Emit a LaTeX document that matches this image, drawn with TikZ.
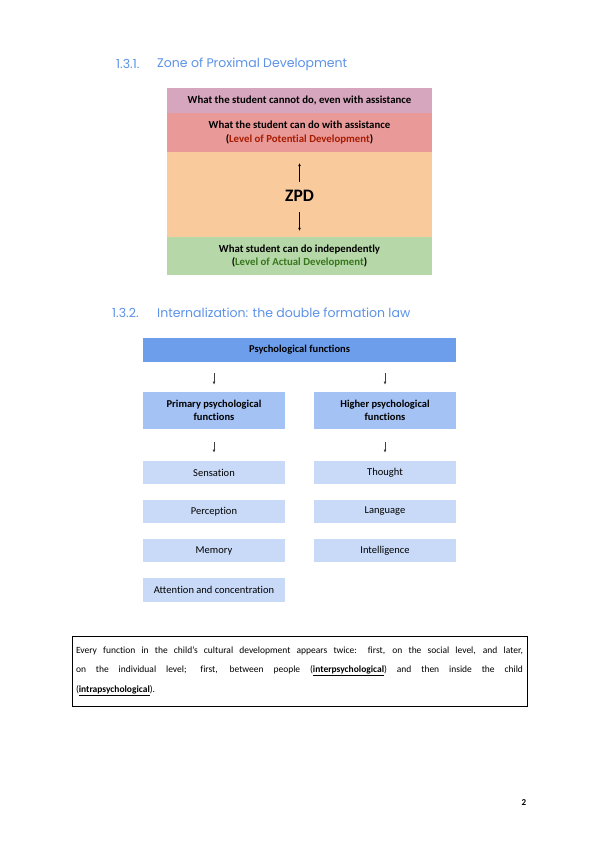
\documentclass[tikz,border=0pt]{standalone}
\usepackage{fontspec}
\setmainfont{Carlito}[Ligatures=NoCommon]
\newfontfamily\headfont{Poppins}
\usetikzlibrary{arrows.meta}
\definecolor{headblue}{RGB}{92,146,232}
\definecolor{cannotpink}{RGB}{213,166,189}
\definecolor{assistred}{RGB}{234,153,153}
\definecolor{zpdorange}{RGB}{249,203,156}
\definecolor{actualgreen}{RGB}{182,215,168}
\definecolor{potred}{RGB}{166,28,0}
\definecolor{actgreen}{RGB}{56,118,29}
\definecolor{funcblue}{RGB}{109,158,235}
\definecolor{groupblue}{RGB}{164,194,244}
\definecolor{itemblue}{RGB}{201,218,248}

\begin{document}
\begin{tikzpicture}[x=1pt, y=-1pt,
    head/.style={anchor=west, inner sep=0pt, font=\headfont\fontsize{12.5}{14}\selectfont, text=headblue},
    zrow/.style={rectangle, inner sep=0pt, minimum width=265pt, text centered, align=center, font=\bfseries\fontsize{10.8}{13.5}\selectfont},
    fbox/.style={rectangle, inner sep=0pt, minimum width=142pt, text centered, align=center, font=\fontsize{10.5}{13}\selectfont},
    garr/.style={-{Latex[length=3.2pt,width=2.8pt]}, black!75, line width=0.6pt}]

\fill[white] (0,0) rectangle (600,848);
\useasboundingbox (0,0) rectangle (600,848);

% section 1.3.1
\node[head] (numzpd) at (116,64) {1.3.1.};
\node[head] (headzpd) at (157,64) {Zone of Proximal Development};

\node[zrow, fill=cannotpink, minimum height=25pt] (cannot) at (299.5,100.5) {What the student cannot do, even with assistance};
\node[zrow, fill=assistred, minimum height=39pt] (assist) at (299.5,132.5) {What the student can do with assistance\\(\textcolor{potred}{Level of Potential Development})};
\node[zrow, fill=zpdorange, minimum height=85pt] (zone) at (299.5,194.5) {};
\node[zrow, fill=actualgreen, minimum height=38pt] (alone) at (299.5,256) {What student can do independently\\(\textcolor{actgreen}{Level of Actual Development})};

\node[font=\bfseries\fontsize{17.5}{20}\selectfont, inner sep=0pt] (zpd) at (299.5,196) {ZPD};
\coordinate (uptop) at (299.5,163);
\coordinate (upbot) at (299.5,182);
\coordinate (downtop) at (299.5,212);
\coordinate (downbot) at (299.5,231);
\draw[garr, black] (upbot) -- (uptop);
\draw[garr, black] (downtop) -- (downbot);

% section 1.3.2
\node[head] (numint) at (112,313) {1.3.2.};
\node[head] (headint) at (157,313) {Internalization: the double formation law};

\node[fbox, fill=funcblue, minimum width=313pt, minimum height=24pt, font=\bfseries\fontsize{10.5}{13}\selectfont] (psych) at (299.5,350) {Psychological functions};

\node[fbox, fill=groupblue, minimum height=37pt, font=\bfseries\fontsize{10.5}{13}\selectfont] (prim) at (214,410.5) {Primary psychological\\functions};
\node[fbox, fill=groupblue, minimum height=37pt, font=\bfseries\fontsize{10.5}{13}\selectfont] (high) at (385,410.5) {Higher psychological\\functions};

\node[fbox, fill=itemblue, minimum height=23pt] (sens) at (214,472.5) {Sensation};
\node[fbox, fill=itemblue, minimum height=23pt] (perc) at (214,511.5) {Perception};
\node[fbox, fill=itemblue, minimum height=23pt] (mem) at (214,550.5) {Memory};
\node[fbox, fill=itemblue, minimum height=24pt] (att) at (214,590) {Attention and concentration};

\node[fbox, fill=itemblue, minimum height=23pt] (thought) at (385,472.5) {Thought};
\node[fbox, fill=itemblue, minimum height=23pt] (lang) at (385,511.5) {Language};
\node[fbox, fill=itemblue, minimum height=23pt] (intel) at (385,550.5) {Intelligence};

\draw[garr, shorten <=11pt, shorten >=7pt] (psych.south -| prim.north) -- (prim.north);
\draw[garr, shorten <=11pt, shorten >=7pt] (psych.south -| high.north) -- (high.north);
\draw[garr, shorten <=13pt, shorten >=8pt] (prim.south) -- (sens.north);
\draw[garr, shorten <=13pt, shorten >=8pt] (high.south) -- (thought.north);

% quotation box
\node[draw, line width=0.9pt, minimum width=455pt, minimum height=70pt, inner xsep=4pt,
      text width=447pt, align=justify, font=\fontsize{9.5}{19.5}\selectfont] (quote) at (299.5,671)
  {Every function in the child's cultural development appears twice: first, on the social level, and later,\linebreak
   on the individual level; first, between people (\underline{\textbf{interpsychological}}) and then inside the child\linebreak
   (\underline{\textbf{intrapsychological}}).};

\node[font=\bfseries\fontsize{9}{10}\selectfont, inner sep=0pt] (pagenum) at (524,803) {2};

\end{tikzpicture}
\end{document}
